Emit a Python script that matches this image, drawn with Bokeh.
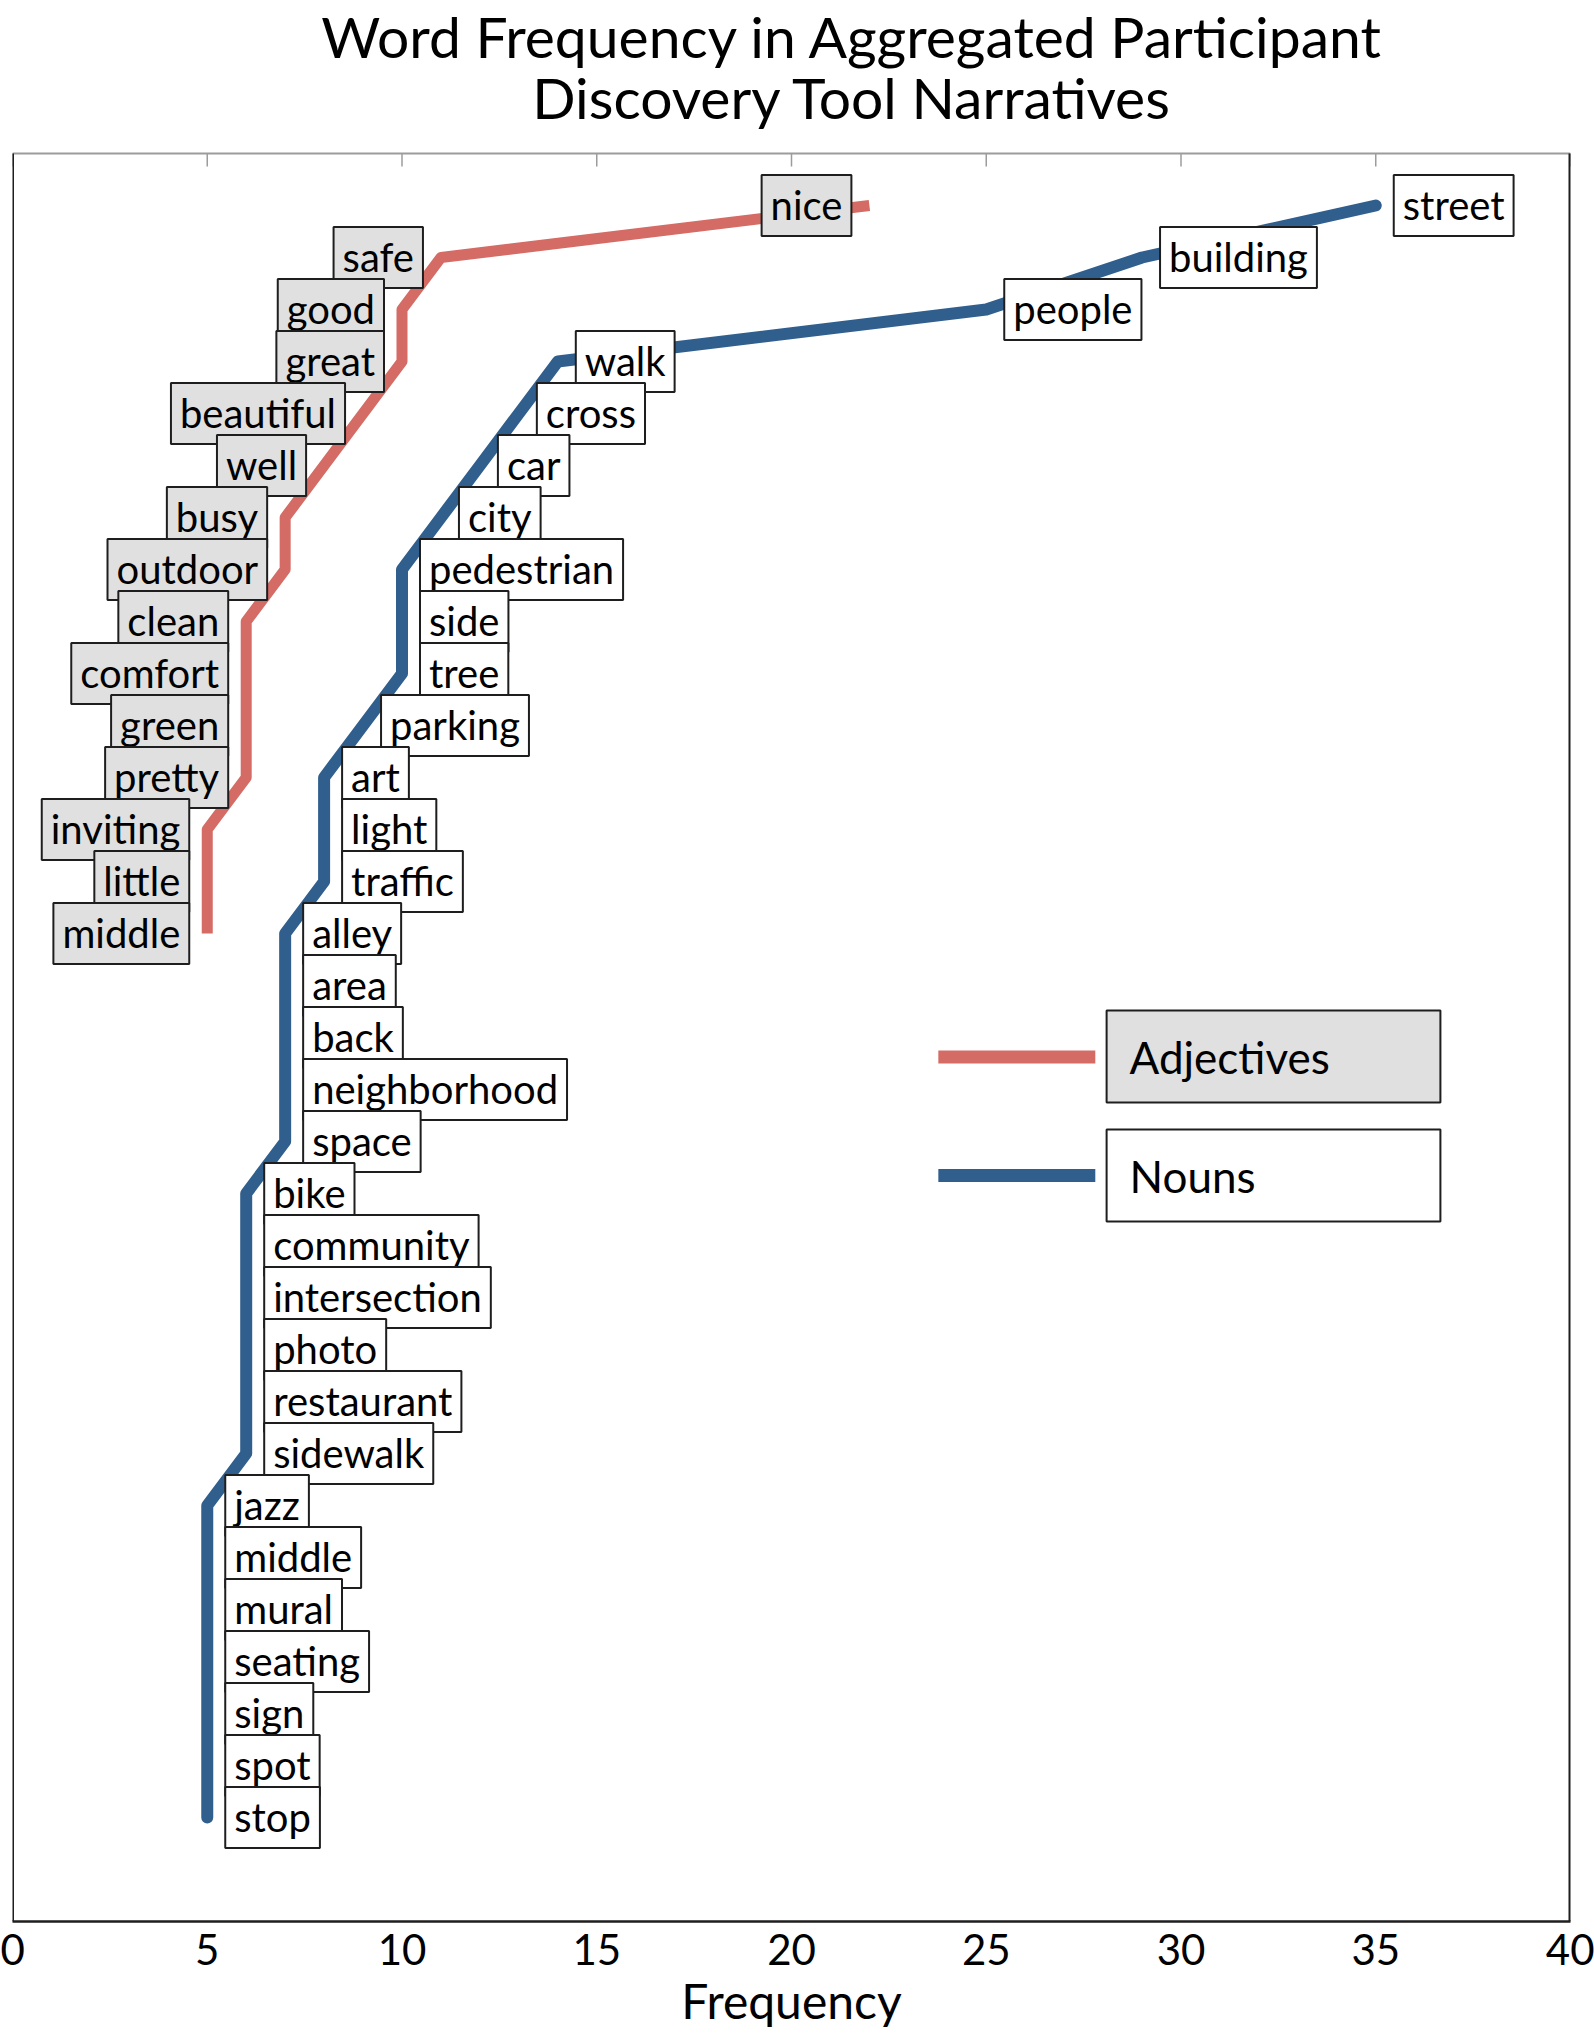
from bokeh.plotting import figure
from bokeh.models import Range1d, FixedTicker, ColumnDataSource
from bokeh.core.properties import value
from bokeh.embed import file_html
from bokeh.resources import INLINE

FONT = "Lato"

# ---------------- data ----------------
title_lines = ["Word Frequency in Aggregated Participant", "Discovery Tool Narratives"]
x_label = "Frequency"
x_ticks = [0, 5, 10, 15, 20, 25, 30, 35, 40]
series_names = ["Adjectives", "Nouns"]

adjectives = ["nice", "safe", "good", "great", "beautiful", "well", "busy", "outdoor",
              "clean", "comfort", "green", "pretty", "inviting", "little", "middle"]
adjective_freq = [22, 11, 10, 10, 9, 8, 7, 7, 6, 6, 6, 6, 5, 5, 5]

nouns = ["street", "building", "people", "walk", "cross", "car", "city", "pedestrian",
         "side", "tree", "parking", "art", "light", "traffic", "alley", "area", "back",
         "neighborhood", "space", "bike", "community", "intersection", "photo",
         "restaurant", "sidewalk", "jazz", "middle", "mural", "seating", "sign", "spot", "stop"]
noun_freq = [35, 29, 25, 14, 13, 12, 11, 10, 10, 10, 9, 8, 8, 8, 7, 7, 7, 7, 7,
             6, 6, 6, 6, 6, 6, 5, 5, 5, 5, 5, 5, 5]

# ---------------- style / layout ----------------
RED = "#D46B64"
BLUE = "#305F8E"
GRAY_FILL = "#DFE0DF"
EDGE = "#1E1E1E"
TICK_GRAY = "#9C9C9C"

X0, X1 = 0, 40
Y0, Y1 = -1, 33            # visible plot box (rank axis)
BOX_TOP_PX = 153           # pixels between canvas top and the plot box
FRAME_H = 1921
PX_PER_Y = (FRAME_H - BOX_TOP_PX) / (Y1 - Y0)
Y_TOP = Y1 + BOX_TOP_PX / PX_PER_Y   # frame extends above the box to hold the title


def y_at_px(px):
    return Y_TOP - px / PX_PER_Y


n_rows = len(nouns)
adj_rank = [n_rows - i for i in range(len(adjectives))]
noun_rank = [n_rows - i for i in range(len(nouns))]

p = figure(frame_width=1558, frame_height=FRAME_H,
           min_border_left=12, min_border_right=24, min_border_top=0, min_border_bottom=116,
           x_range=Range1d(X0, X1), y_range=Range1d(Y0, Y_TOP),
           output_backend="svg", toolbar_location=None)
p.title = None
p.background_fill_color = "white"
p.border_fill_color = "white"
p.xgrid.visible = False
p.ygrid.visible = False
p.yaxis.visible = False
p.outline_line_color = None

# bottom axis
xa = p.xaxis[0]
xa.ticker = FixedTicker(ticks=x_ticks)
xa.axis_line_color = EDGE
xa.axis_line_width = 2.5
xa.major_tick_line_color = None
xa.minor_tick_line_color = None
xa.major_label_text_font = FONT
xa.major_label_text_font_size = "42px"
xa.major_label_text_color = "black"
xa.major_label_standoff = 6
xa.axis_label = x_label
xa.axis_label_text_font = FONT
xa.axis_label_text_font_size = "48px"
xa.axis_label_text_font_style = "normal"
xa.axis_label_text_color = "black"
xa.axis_label_standoff = 4

# plot box edges: gray top with inward ticks, black left / right
p.segment(x0=[X0], y0=[Y1], x1=[X1], y1=[Y1], line_color=TICK_GRAY, line_width=2)
TICK_LEN = 13 / PX_PER_Y
p.segment(x0=x_ticks, y0=[Y1] * len(x_ticks), x1=x_ticks, y1=[Y1 - TICK_LEN] * len(x_ticks),
          line_color=TICK_GRAY, line_width=1.5)
p.segment(x0=[X0], y0=[Y0], x1=[X0], y1=[Y1], line_color=EDGE, line_width=3)
p.segment(x0=[X1], y0=[Y0], x1=[X1], y1=[Y1], line_color=EDGE, line_width=4)

# lines
p.line(adjective_freq, adj_rank, line_color=RED, line_width=11, line_join="round", line_cap="butt")
p.line(noun_freq, noun_rank, line_color=BLUE, line_width=12, line_join="round", line_cap="round")

# word labels  (padding = left, right, top, bottom)
adj_src = ColumnDataSource(dict(x=adjective_freq, y=adj_rank, text=adjectives))
noun_src = ColumnDataSource(dict(x=noun_freq, y=noun_rank, text=nouns))
common = dict(text_font=value(FONT), text_font_size=value("40px"), text_color="black",
              border_line_color=EDGE, border_line_width=2,
              padding=(9, 9, 6, 7))
p.text(x="x", y="y", text="text", source=adj_src, anchor=value("center_right"),
       x_offset=-18, background_fill_color=GRAY_FILL, **common)
p.text(x="x", y="y", text="text", source=noun_src, anchor=value("center_left"),
       x_offset=18, background_fill_color="white", **common)

# legend (layout positions)
LEG_LINE_X = (23.77, 27.80)
LEG_BOX_X = (28.09, 36.66)
LEG_TEXT_X = 28.68
leg_rows = [dict(line_px=1056.5, box_px=(1010, 1102), color=RED, fill=GRAY_FILL),
            dict(line_px=1175, box_px=(1129, 1221), color=BLUE, fill="white")]
for name, r in zip(series_names, leg_rows):
    ly = y_at_px(r["line_px"])
    p.line(list(LEG_LINE_X), [ly, ly], line_color=r["color"], line_width=13)
    p.quad(left=LEG_BOX_X[0], right=LEG_BOX_X[1],
           top=y_at_px(r["box_px"][0]), bottom=y_at_px(r["box_px"][1]),
           fill_color=r["fill"], line_color=EDGE, line_width=2)
    p.text(x=[LEG_TEXT_X], y=[ly], text=[name], text_font=value(FONT),
           text_font_size=value("44px"), text_color="black",
           text_align="left", text_baseline="middle")

# title: two centred lines above the plot box
TITLE_X = 21.57
TITLE_MID_PX = [35, 96]
p.text(x=[TITLE_X] * 2, y=[y_at_px(v) for v in TITLE_MID_PX], text=title_lines,
       text_font=value(FONT), text_font_size=value("57px"), text_color="black",
       text_align="center", text_baseline="middle")

open("out.html", "w").write(file_html(p, INLINE))
